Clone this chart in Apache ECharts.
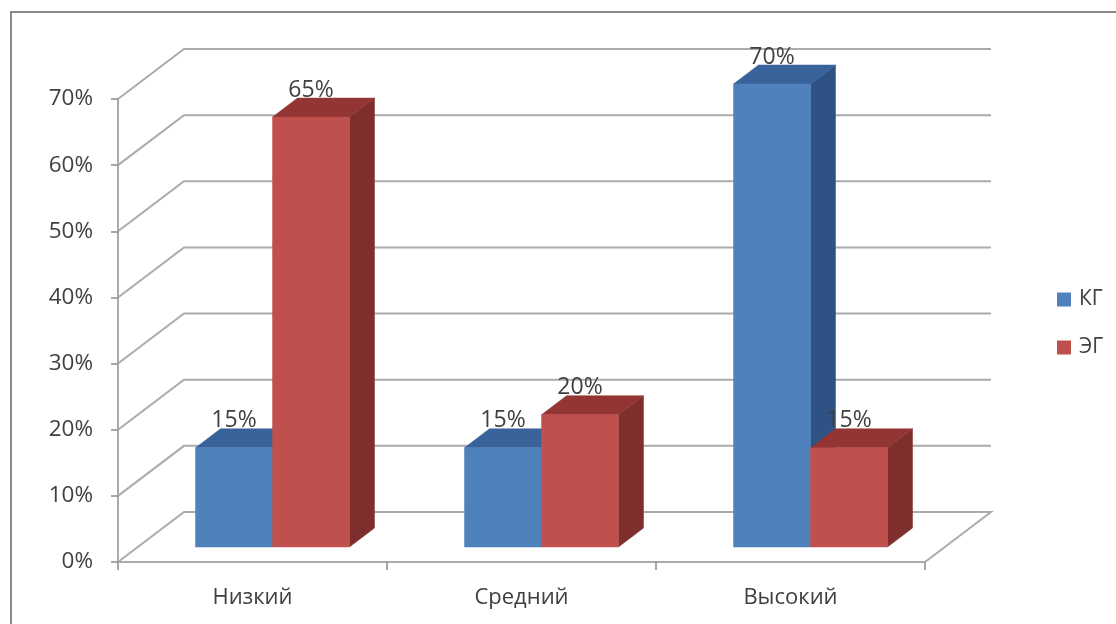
<!DOCTYPE html>
<html>
<head>
<meta charset="utf-8">
<style>html,body{margin:0;padding:0;background:#fff}#chart{width:1116px;height:624px}</style>
<script src="https://cdn.jsdelivr.net/npm/echarts@6/dist/echarts.min.js"></script>
</head>
<body>
<div id="chart"></div>
<script>
// Levels and group percentages
const categories = ['Низкий', 'Средний', 'Высокий'];
const kgValues = [15, 15, 70];
const egValues = [65, 20, 15];
const yTicks = [0, 10, 20, 30, 40, 50, 60, 70];

const FONT = '"Open Sans", sans-serif';
const TEXT = '#404040';

// Oblique projection used for the walls and the columns
const WALL = { dx: 66, dy: -50 };
const COL_FRONT = { dx: 20, dy: -15 };
const COL_DEPTH = { dx: 25, dy: -19 };
const COL_SHARE = 77 / 269;

// Wall and floor rules, one polyline per value tick
function renderRule(params, api) {
  const cs = params.coordSys;
  const y = api.coord([0, api.value(1)])[1];
  const pts = [
    [cs.x, y],
    [cs.x + WALL.dx, y + WALL.dy],
    [cs.x + cs.width + WALL.dx, y + WALL.dy]
  ];
  if (api.value(1) === 0) pts.push([cs.x + cs.width, y]);
  return {
    type: 'polyline',
    shape: { points: pts },
    style: { stroke: '#ABABAB', lineWidth: 2, fill: null }
  };
}

// A prism column: value label first, so the column's own top can cover its lower edge
function columnRenderer(side, front, top, flank) {
  return function (params, api) {
    const band = api.size([1, 0])[0];
    const w = band * COL_SHARE;
    const base = api.coord([api.value(0), 0]);
    const head = api.coord([api.value(0), api.value(1)]);
    const x0 = base[0] + COL_FRONT.dx + (side < 0 ? -w : 0);
    const x1 = x0 + w;
    const yb = base[1] + COL_FRONT.dy;
    const yt = head[1] + COL_FRONT.dy;
    const d = COL_DEPTH;
    const poly = (points, fill) => ({
      type: 'polygon', shape: { points }, style: { fill, stroke: fill, lineWidth: 0.5 }
    });
    return {
      type: 'group',
      children: [
        {
          type: 'text',
          style: {
            x: (x0 + x1) / 2, y: yt - 27, text: api.value(1) + '%',
            fill: TEXT, font: '23px ' + FONT, align: 'center', verticalAlign: 'middle'
          }
        },
        poly([[x1, yb], [x1 + d.dx, yb + d.dy], [x1 + d.dx, yt + d.dy], [x1, yt]], flank),
        poly([[x0, yt], [x1, yt], [x1 + d.dx, yt + d.dy], [x0 + d.dx, yt + d.dy]], top),
        poly([[x0, yb], [x1, yb], [x1, yt], [x0, yt]], front)
      ]
    };
  };
}

const toPoints = values => values.map((v, i) => [i, v]);

const chart = echarts.init(document.getElementById('chart'), null, { renderer: 'canvas' });
chart.setOption({
  animation: false,
  backgroundColor: '#ffffff',
  graphic: [{
    type: 'rect',
    shape: { x: 11, y: 12, width: 1300, height: 800 },
    style: { fill: 'none', stroke: '#8A8A8A', lineWidth: 2 },
    silent: true
  }],
  grid: { left: 118, top: 99, width: 807, height: 463, containLabel: false },
  legend: {
    data: ['КГ', 'ЭГ'],
    orient: 'vertical',
    left: 1052,
    top: 284,
    icon: 'rect',
    itemWidth: 14,
    itemHeight: 14,
    itemGap: 27,
    selectedMode: false,
    textStyle: { color: TEXT, fontFamily: FONT, fontSize: 21, padding: [0, 0, 0, 3] }
  },
  xAxis: {
    type: 'category',
    data: categories,
    axisLine: { lineStyle: { color: '#ABABAB', width: 2 } },
    axisTick: { show: true, length: 8, lineStyle: { color: '#8A8A8A', width: 1.5 } },
    axisLabel: { color: TEXT, fontFamily: FONT, fontSize: 22, margin: 25 },
    splitLine: { show: false }
  },
  yAxis: {
    type: 'value',
    min: 0,
    max: 70,
    interval: 10,
    axisLine: { show: true, lineStyle: { color: '#ABABAB', width: 2 } },
    axisTick: { show: true, length: 7, lineStyle: { color: '#8A8A8A', width: 1.5 } },
    axisLabel: { color: TEXT, fontFamily: FONT, fontSize: 22.5, margin: 25, padding: [4, 0, 0, 0], formatter: '{value}%' },
    splitLine: { show: false }
  },
  series: [
    {
      type: 'custom', name: 'rules', z: 1, silent: true,
      renderItem: renderRule,
      data: yTicks.map(v => [0, v]),
      encode: { x: 0, y: 1 }
    },
    {
      type: 'custom', name: 'КГ', z: 2, silent: true,
      itemStyle: { color: '#4F81BD' },
      renderItem: columnRenderer(-1, '#4F81BD', '#38639A', '#2F5285'),
      data: toPoints(kgValues),
      encode: { x: 0, y: 1 }
    },
    {
      type: 'custom', name: 'ЭГ', z: 3, silent: true,
      itemStyle: { color: '#C0504D' },
      renderItem: columnRenderer(1, '#C0504D', '#923533', '#7D2E2D'),
      data: toPoints(egValues),
      encode: { x: 0, y: 1 }
    }
  ]
});
</script>
</body>
</html>
